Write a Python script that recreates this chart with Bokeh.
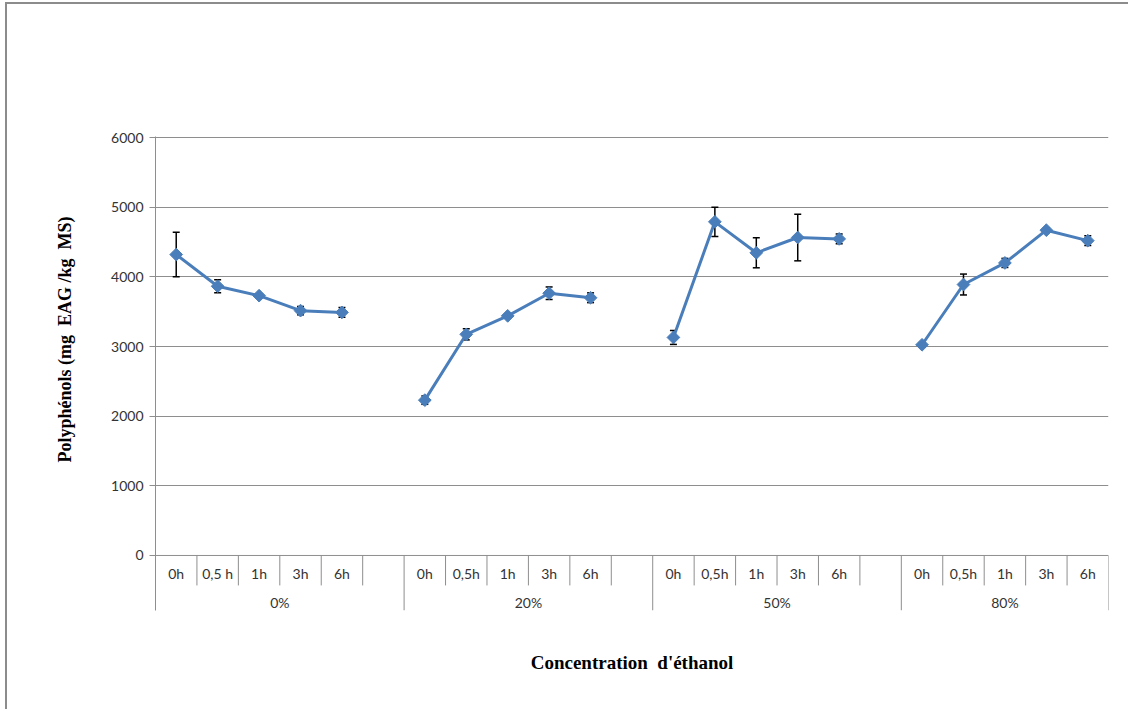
from bokeh.plotting import figure
from bokeh.models import Range1d, FixedTicker, Whisker, TeeHead, ColumnDataSource, Title
from bokeh.core.properties import value
from bokeh.embed import file_html
from bokeh.resources import INLINE

# Ethanol concentrations (outer category) and extraction times (inner category)
groups = ["0%", "20%", "50%", "80%"]
times_0 = ["0h", "0,5 h", "1h", "3h", "6h"]
times_20 = ["0h", "0,5h", "1h", "3h", "6h"]
times_50 = ["0h", "0,5h", "1h", "3h", "6h"]
times_80 = ["0h", "0,5h", "1h", "3h", "6h"]

# Polyphenol content (mg EAG / kg MS) and standard deviations
values_0 = [4320, 3865, 3730, 3515, 3490]
err_0 = [320, 95, 25, 60, 70]
values_20 = [2230, 3175, 3440, 3765, 3700]
err_20 = [60, 80, 25, 90, 70]
values_50 = [3130, 4790, 4345, 4565, 4545]
err_50 = [100, 210, 215, 335, 70]
values_80 = [3025, 3890, 4200, 4670, 4520]
err_80 = [30, 150, 65, 30, 70]

y_ticks = [0, 1000, 2000, 3000, 4000, 5000, 6000]

series = [
    (times_0, values_0, err_0),
    (times_20, values_20, err_20),
    (times_50, values_50, err_50),
    (times_80, values_80, err_80),
]

BLUE = "#4a7ebb"
GRAY = "#8e8e8e"
TXT = "#333333"
SANS = "Lato"
SERIF = "Liberation Serif"

# each group takes 5 time slots plus one empty slot (except the last group)
slots_per_group = 6
n_slots = slots_per_group * (len(groups) - 1) + len(times_80)

y_min = -790   # room below zero for the two-level category labels
y_max = 6015   # a little headroom so the top gridline is not clipped

p = figure(
    width=1123, height=707,
    x_range=Range1d(0, n_slots), y_range=Range1d(y_min, y_max),
    output_backend="svg", toolbar_location=None,
    x_axis_location=None,
    min_border_left=148, min_border_right=22,
    min_border_top=132, min_border_bottom=101,
)
p.styles = {
    "margin-left": "5px", "margin-top": "2px",
    "border-left": "2px solid #8c8c8c", "border-top": "2px solid #8c8c8c",
}
p.outline_line_color = None
p.background_fill_color = "white"
p.border_fill_color = "white"

# value axis
p.yaxis.ticker = FixedTicker(ticks=y_ticks)
p.yaxis.axis_line_color = GRAY
p.yaxis.major_tick_line_color = GRAY
p.yaxis.major_tick_out = 6
p.yaxis.major_tick_in = 0
p.yaxis.minor_tick_line_color = None
p.yaxis.major_label_standoff = 6
p.yaxis.major_label_text_font = SANS
p.yaxis.major_label_text_font_size = "14px"
p.yaxis.major_label_text_color = TXT

p.xgrid.visible = False
p.ygrid.ticker = FixedTicker(ticks=y_ticks[1:])
p.ygrid.grid_line_color = GRAY
p.ygrid.grid_line_width = 1

# category axis: baseline and separators
p.segment(x0=[0], y0=[0], x1=[n_slots], y1=[0], line_color=GRAY, line_width=1)
group_edges = [slots_per_group * (g + 1) for g in range(len(groups) - 1)] + [n_slots]
inner_edges = [i for i in range(1, n_slots) if i not in group_edges]
p.segment(x0=inner_edges, y0=[0] * len(inner_edges), x1=inner_edges,
          y1=[-430] * len(inner_edges), line_color=GRAY, line_width=1)
p.segment(x0=group_edges, y0=[0] * len(group_edges), x1=group_edges,
          y1=[y_min] * len(group_edges), line_color=GRAY, line_width=1)

cat_x, cat_txt, grp_x = [], [], []
for g, (times, vals, errs) in enumerate(series):
    xs = [slots_per_group * g + j + 0.5 for j in range(len(times))]
    cat_x += xs
    cat_txt += times
    start = slots_per_group * g
    end = min(start + slots_per_group, n_slots)
    grp_x.append((start + end) / 2)

    src = ColumnDataSource(dict(
        x=xs, y=vals,
        upper=[v + e for v, e in zip(vals, errs)],
        lower=[v - e for v, e in zip(vals, errs)],
    ))
    p.add_layout(Whisker(
        base="x", upper="upper", lower="lower", source=src,
        line_color="black", line_width=1.5,
        upper_head=TeeHead(size=7, line_color="black", line_width=1.5),
        lower_head=TeeHead(size=7, line_color="black", line_width=1.5),
    ))
    p.line("x", "y", source=src, line_color=BLUE, line_width=3)
    p.scatter("x", "y", source=src, marker="square", size=9, angle=0.7854,
              fill_color=BLUE, line_color=BLUE)

p.text(x=cat_x, y=[-258] * len(cat_x), text=cat_txt,
       text_font=value(SANS), text_font_size="14px", text_color=TXT,
       text_align="center", text_baseline="middle")
p.text(x=grp_x, y=[-675] * len(grp_x), text=groups,
       text_font=value(SANS), text_font_size="14px", text_color=TXT,
       text_align="center", text_baseline="middle")

# axis titles (non-breaking spaces keep the wide gaps)
p.add_layout(Title(
    text="Concentration\u00a0 d'éthanol", align="center",
    text_font=SERIF, text_font_style="bold", text_font_size="19px",
    text_color="black", standoff=78,
), "below")
p.add_layout(Title(
    text="Polyphénols (mg\u00a0 EAG /kg\u00a0 MS)", align="right", offset=80,
    text_font=SERIF, text_font_style="bold", text_font_size="18px",
    text_color="black", standoff=67,
), "left")

open("out.html", "w").write(file_html(p, INLINE))
